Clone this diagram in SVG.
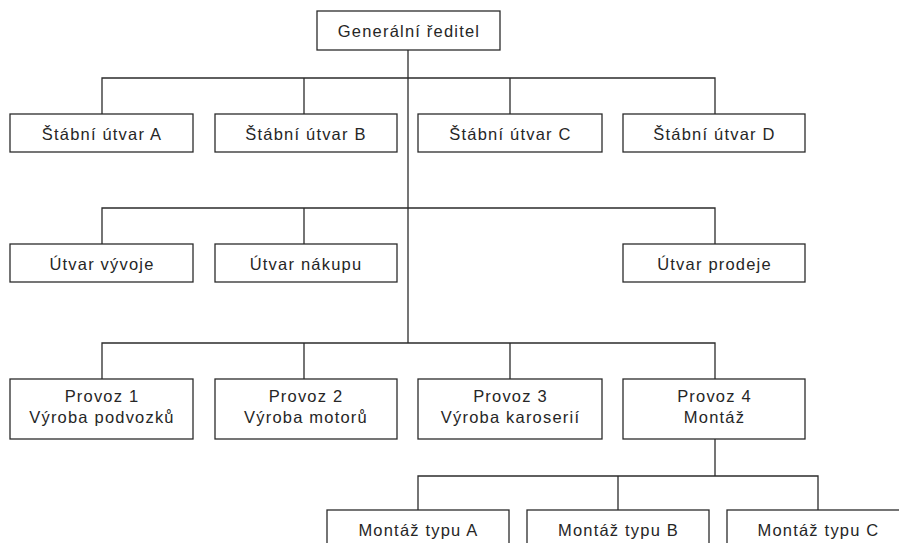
<svg xmlns="http://www.w3.org/2000/svg" width="899" height="543" viewBox="0 0 899 543">
  <style>
    .box { fill: #ffffff; stroke: #2b2b2b; stroke-width: 1.3; }
    .lbl { font-family: "Liberation Sans", Arial, sans-serif; font-size: 16.5px; letter-spacing: 1.2px; fill: #262626; text-anchor: middle; }
    .conn { fill: none; stroke: #2b2b2b; stroke-width: 1.3; }
  </style>
  <rect width="899" height="543" fill="#ffffff"/>

  <!-- connectors -->
  <g id="connectors" class="conn">
    <path d="M408 50 V343"/>
    <path d="M102 114 V78 H715 V114 M304 78 V114 M510 78 V114"/>
    <path d="M102 244 V208 H715 V244 M304 208 V244"/>
    <path d="M102 379 V343 H715 V379 M304 343 V379 M510 343 V379"/>
    <path d="M715 439 V476"/>
    <path d="M418 510 V476 H818 V510 M618 476 V510"/>
  </g>

  <g id="gr">
    <rect class="box" x="317" y="11" width="183" height="39"/>
    <text class="lbl" x="409" y="36.5">Generální ředitel</text>
  </g>

  <g id="staff-a">
    <rect class="box" x="10" y="114" width="183" height="38"/>
    <text class="lbl" x="102" y="140">Štábní útvar A</text>
  </g>
  <g id="staff-b">
    <rect class="box" x="215" y="114" width="182" height="38"/>
    <text class="lbl" x="306" y="140">Štábní útvar B</text>
  </g>
  <g id="staff-c">
    <rect class="box" x="418" y="114" width="184" height="38"/>
    <text class="lbl" x="510.5" y="140">Štábní útvar C</text>
  </g>
  <g id="staff-d">
    <rect class="box" x="623" y="114" width="182" height="38"/>
    <text class="lbl" x="714.5" y="140">Štábní útvar D</text>
  </g>

  <g id="dev">
    <rect class="box" x="10" y="244" width="183" height="38"/>
    <text class="lbl" x="102" y="270">Útvar vývoje</text>
  </g>
  <g id="purchase">
    <rect class="box" x="215" y="244" width="182" height="38"/>
    <text class="lbl" x="306" y="270">Útvar nákupu</text>
  </g>
  <g id="sales">
    <rect class="box" x="623" y="244" width="182" height="38"/>
    <text class="lbl" x="714.5" y="270">Útvar prodeje</text>
  </g>

  <g id="plant-1">
    <rect class="box" x="10" y="379" width="183" height="60"/>
    <text class="lbl" x="102" y="402">Provoz 1</text>
    <text class="lbl" x="102" y="423">Výroba podvozků</text>
  </g>
  <g id="plant-2">
    <rect class="box" x="215" y="379" width="182" height="60"/>
    <text class="lbl" x="306" y="402">Provoz 2</text>
    <text class="lbl" x="306" y="423">Výroba motorů</text>
  </g>
  <g id="plant-3">
    <rect class="box" x="418" y="379" width="184" height="60"/>
    <text class="lbl" x="510.5" y="402">Provoz 3</text>
    <text class="lbl" x="510.5" y="423">Výroba karoserií</text>
  </g>
  <g id="plant-4">
    <rect class="box" x="623" y="379" width="182" height="60"/>
    <text class="lbl" x="714.5" y="402">Provoz 4</text>
    <text class="lbl" x="714.5" y="423">Montáž</text>
  </g>

  <g id="assembly-a">
    <rect class="box" x="327" y="510" width="182" height="40"/>
    <text class="lbl" x="418.5" y="535.5">Montáž typu A</text>
  </g>
  <g id="assembly-b">
    <rect class="box" x="527" y="510" width="182" height="40"/>
    <text class="lbl" x="618.5" y="535.5">Montáž typu B</text>
  </g>
  <g id="assembly-c">
    <rect class="box" x="727" y="510" width="182" height="40"/>
    <text class="lbl" x="818.5" y="535.5">Montáž typu C</text>
  </g>
</svg>
